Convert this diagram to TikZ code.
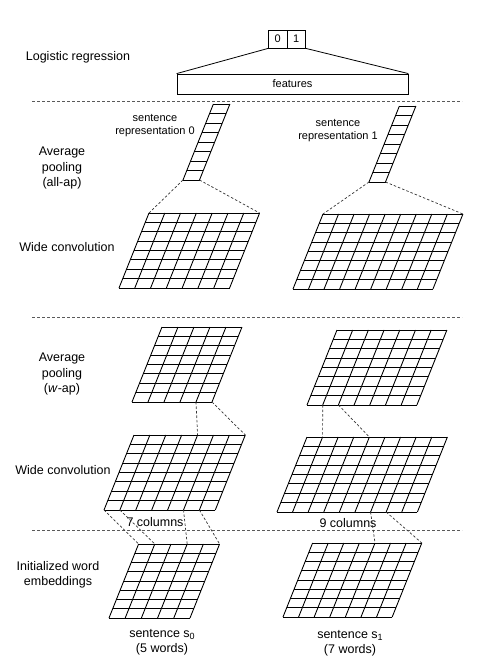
\documentclass[tikz,border=0pt]{standalone}
\usepackage{fontspec}
\setmainfont{Liberation Sans}
\begin{document}
\begin{tikzpicture}[x=1pt,y=-1pt,
  gridline/.style={line width=0.85pt,black},
  conn/.style={line width=0.7pt,dash pattern=on 2.5pt off 2pt,black!80},
  sep/.style={line width=0.7pt,dash pattern=on 3pt off 2pt,black!65},
  lbl/.style={font=\fontsize{12.5}{15.5}\selectfont,align=center,inner sep=0pt},
  small/.style={font=\fontsize{11}{13}\selectfont,align=center,inner sep=0pt},
  cell/.style={draw,line width=0.8pt,minimum width=18.5pt,minimum height=18pt,inner sep=0pt,font=\fontsize{11}{13}\selectfont}]
\useasboundingbox (0,0) rectangle (483,670);
% grid macro: name, x bottom-left, y bottom, cols, rows, col width, row height
\newcommand{\pargrid}[7]{%
  \foreach \i in {0,...,#5}{\draw[gridline] ({#2+0.4*\i*#7},{#3-\i*#7}) -- ++({#4*#6},0);}
  \foreach \j in {0,...,#4}{%
    \draw[gridline] ({#2+\j*#6},#3) -- ++({0.4*#5*#7},{-#5*#7});
    \coordinate (#1-b\j) at ({#2+\j*#6},#3);
    \coordinate (#1-t\j) at ({#2+\j*#6+0.4*#5*#7},{#3-#5*#7});}
}
\newcommand{\subsc}[1]{\raisebox{-2.5pt}{\fontsize{9}{9}\selectfont #1}}
% top: logistic regression
\node[cell] (c0) at (277.75,39) {0};
\node[cell] (c1) at (296.25,39) {1};
\node[draw,line width=0.8pt,minimum width=231pt,minimum height=20pt,inner sep=0pt,font=\fontsize{11}{13}\selectfont] (feat) at (292.5,84) {features};
\draw[line width=0.8pt] (c0.south west) -- (feat.north west);
\draw[line width=0.8pt] (c1.south east) -- (feat.north east);
% separators
\coordinate (s1a) at (32,101); \coordinate (s1b) at (462,101);
\coordinate (s2a) at (32,317); \coordinate (s2b) at (462,317);
\coordinate (s3a) at (32,530); \coordinate (s3b) at (462,530);
\draw[sep] (s1a) -- (s1b);
\draw[sep] (s2a) -- (s2b);
\draw[sep] (s3a) -- (s3b);
% left labels
\node[lbl] (l1) at (78,57) {Logistic regression};
\node[lbl] (l2) at (62,168) {Average\\pooling\\(all-ap)};
\node[lbl] (l3) at (67,247) {Wide convolution};
\node[lbl] (l4) at (62,374) {Average\\pooling\\(\textit{w}-ap)};
\node[lbl] (l5) at (63,470) {Wide convolution};
\node[lbl] (l6) at (58,575) {Initialized word\\embeddings};
% grids
\pargrid{R0}{183}{180}{1}{8}{16.5}{9.5}
\pargrid{R1}{369}{182}{1}{8}{16.5}{9.5}
\pargrid{G1}{119}{288}{7}{8}{15.8}{9.375}
\pargrid{G2}{293}{289}{9}{8}{15.55}{9.375}
\pargrid{P1}{132}{402}{5}{8}{16}{9.375}
\pargrid{P2}{307}{405}{7}{8}{15.7}{9.375}
\pargrid{C1}{104}{510}{7}{8}{15.9}{9.375}
\pargrid{C2}{277}{512}{9}{8}{15.6}{9.375}
\pargrid{E1}{109}{618}{5}{8}{16.2}{9.25}
\pargrid{E2}{283}{617}{7}{8}{15.6}{9.25}
% texts
\node[small] (rt0) at (155,126) {sentence\\representation 0};
\node[small] (rt1) at (338,131) {sentence\\representation 1};
\node[lbl] (col7) at (155,522) {7 columns};
\node[lbl] (col9) at (348,523) {9 columns};
\node[lbl] (sn0) at (162,642) {sentence s\subsc{0}\\(5 words)};
\node[lbl] (sn1) at (350,643) {sentence s\subsc{1}\\(7 words)};
% connectors
\draw[conn] (R0-b0) -- (G1-t0);
\draw[conn] (R0-b1) -- (G1-t7);
\draw[conn] (R1-b0) -- (G2-t0);
\draw[conn] (R1-b1) -- (G2-t9);
\draw[conn] (P1-b4) -- (C1-t4);
\draw[conn] (P1-b5) -- (C1-t7);
\draw[conn] (P2-b1) -- (C2-t1);
\draw[conn] (P2-b2) -- (C2-t4);
\draw[conn] (C1-b0) -- (E1-t0);
\draw[conn] (C1-b1) -- (E1-t1);
\draw[conn] (C1-b5) -- (E1-t3);
\draw[conn] (C1-b6) -- (E1-t5);
\draw[conn] (C2-b6) -- (E2-t4);
\draw[conn] (C2-b7) -- (E2-t7);
\end{tikzpicture}
\end{document}
